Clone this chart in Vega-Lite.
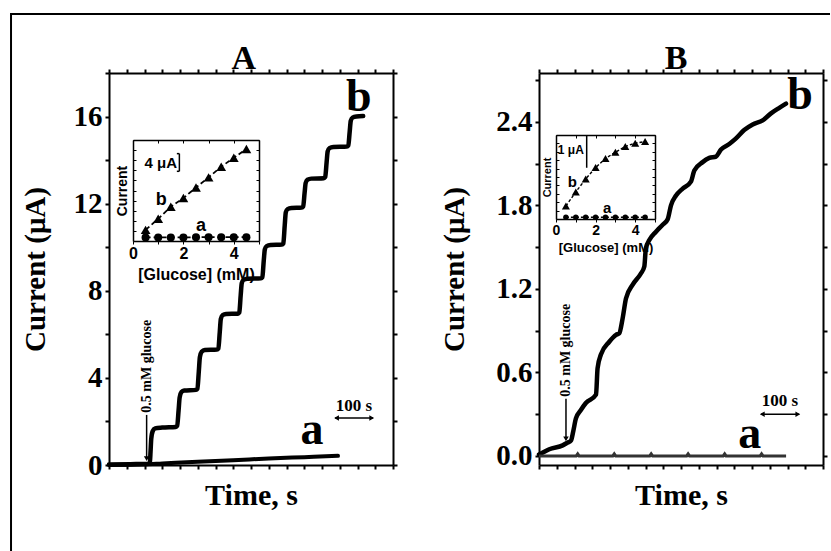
{
  "$schema": "https://vega.github.io/schema/vega-lite/v6.json",
  "padding": {"left": 9, "top": 11, "right": 0, "bottom": 0},
  "background": "white",
  "bounds": "flush",
  "spacing": 146,
  "config": {
    "view": {"stroke": null},
    "axis": {"domainColor": "black", "domainWidth": 2, "tickColor": "black", "tickWidth": 2, "tickSize": 4, "grid": false,
      "labelFont": "Liberation Serif", "labelFontSize": 29, "labelFontWeight": "bold", "labelColor": "black", "labelPadding": 3,
      "titleFont": "Liberation Serif", "titleFontSize": 29, "titleFontWeight": "bold", "titleColor": "black"}
  },
  "datasets": {
    "frame": [{"x1": -276, "x2": -276, "y1": -3.95, "y2": 20.76}, {"x1": -276.5, "x2": 2031, "y1": 20.71, "y2": 20.71}],
    "A_title": [{"t": 380, "v": 18.18, "label": "A"}],
    "B_title": [{"t": 386, "v": 2.779, "label": "B"}],
    "A_b": [
      {"t": 0, "v": 0.02}, {"t": 60, "v": 0.04}, {"t": 112, "v": 0.06},
      {"t": 115, "v": 0.1}, {"t": 117, "v": 0.6}, {"t": 119, "v": 1.2}, {"t": 123, "v": 1.55}, {"t": 130, "v": 1.68}, {"t": 150, "v": 1.72}, {"t": 188, "v": 1.75},
      {"t": 192, "v": 1.8}, {"t": 196, "v": 2.5}, {"t": 199, "v": 3.1}, {"t": 204, "v": 3.35}, {"t": 212, "v": 3.42}, {"t": 245, "v": 3.45},
      {"t": 249, "v": 3.5}, {"t": 253, "v": 4.3}, {"t": 256, "v": 4.95}, {"t": 261, "v": 5.2}, {"t": 270, "v": 5.28}, {"t": 304, "v": 5.3},
      {"t": 308, "v": 5.35}, {"t": 312, "v": 6.1}, {"t": 315, "v": 6.7}, {"t": 320, "v": 6.88}, {"t": 330, "v": 6.93}, {"t": 363, "v": 6.95},
      {"t": 367, "v": 7.0}, {"t": 371, "v": 7.8}, {"t": 374, "v": 8.35}, {"t": 379, "v": 8.5}, {"t": 390, "v": 8.55}, {"t": 428, "v": 8.57},
      {"t": 432, "v": 8.62}, {"t": 436, "v": 9.4}, {"t": 439, "v": 9.9}, {"t": 444, "v": 10.05}, {"t": 455, "v": 10.1}, {"t": 487, "v": 10.12},
      {"t": 491, "v": 10.17}, {"t": 495, "v": 11.0}, {"t": 498, "v": 11.6}, {"t": 503, "v": 11.75}, {"t": 514, "v": 11.8}, {"t": 543, "v": 11.82},
      {"t": 547, "v": 11.87}, {"t": 551, "v": 12.5}, {"t": 554, "v": 12.95}, {"t": 559, "v": 13.1}, {"t": 570, "v": 13.15}, {"t": 605, "v": 13.17},
      {"t": 609, "v": 13.22}, {"t": 613, "v": 13.9}, {"t": 616, "v": 14.4}, {"t": 621, "v": 14.55}, {"t": 632, "v": 14.6}, {"t": 670, "v": 14.62},
      {"t": 674, "v": 14.67}, {"t": 678, "v": 15.3}, {"t": 681, "v": 15.8}, {"t": 686, "v": 15.95}, {"t": 697, "v": 16.0}, {"t": 716, "v": 16.02}
    ],
    "A_a": [
      {"t": 0, "v": 0.0}, {"t": 100, "v": 0.03}, {"t": 150, "v": 0.07}, {"t": 250, "v": 0.15}, {"t": 350, "v": 0.22},
      {"t": 450, "v": 0.3}, {"t": 550, "v": 0.36}, {"t": 645, "v": 0.42}
    ],
    "A_rules": [{"t": 106, "t2": 106, "v": 2.3, "v2": 0.3}, {"t": 637, "t2": 744, "v": 2.16, "v2": 2.16}],
    "A_heads": [{"t": 106, "v": 0.29, "dir": "down"}, {"t": 641, "v": 2.16, "dir": "left"}, {"t": 740, "v": 2.16, "dir": "right"}],
    "A_big": [{"t": 704, "v": 16.25, "label": "b"}, {"t": 572, "v": 0.96, "label": "a"}],
    "A_small": [{"t": 690, "v": 2.48, "label": "100 s"}],
    "A_inj": [{"t": 106, "v": 2.4, "label": "0.5 mM glucose"}],
    "B_b": [
      {"t": 0, "v": 0.01}, {"t": 5.6, "v": 0.017}, {"t": 29, "v": 0.048}, {"t": 66.7, "v": 0.076}, {"t": 80.8, "v": 0.096},
      {"t": 90, "v": 0.11}, {"t": 96.7, "v": 0.18}, {"t": 104, "v": 0.27}, {"t": 118, "v": 0.33}, {"t": 132, "v": 0.38},
      {"t": 160.6, "v": 0.44}, {"t": 165, "v": 0.63}, {"t": 174.7, "v": 0.73}, {"t": 198, "v": 0.82}, {"t": 217, "v": 0.87},
      {"t": 226, "v": 0.88}, {"t": 235.7, "v": 0.99}, {"t": 245, "v": 1.13}, {"t": 264, "v": 1.23}, {"t": 287, "v": 1.31},
      {"t": 296.7, "v": 1.36}, {"t": 301, "v": 1.49}, {"t": 310.8, "v": 1.55}, {"t": 329.6, "v": 1.61}, {"t": 348.4, "v": 1.66},
      {"t": 362.5, "v": 1.7}, {"t": 371.8, "v": 1.8}, {"t": 386, "v": 1.87}, {"t": 404.7, "v": 1.92}, {"t": 428, "v": 1.97},
      {"t": 437.5, "v": 2.05}, {"t": 461, "v": 2.11}, {"t": 479.8, "v": 2.14}, {"t": 498.6, "v": 2.15}, {"t": 512.7, "v": 2.2},
      {"t": 536, "v": 2.24}, {"t": 555, "v": 2.28}, {"t": 578, "v": 2.34}, {"t": 602, "v": 2.38}, {"t": 630, "v": 2.41},
      {"t": 653.5, "v": 2.46}, {"t": 677, "v": 2.5}, {"t": 695.8, "v": 2.53}
    ],
    "B_a": [
      {"t": 0, "v": 0}, {"t": 105, "v": 0}, {"t": 109, "v": 0.015}, {"t": 113, "v": 0},
      {"t": 208, "v": 0}, {"t": 212, "v": 0.015}, {"t": 216, "v": 0},
      {"t": 312, "v": 0}, {"t": 316, "v": 0.015}, {"t": 320, "v": 0},
      {"t": 416, "v": 0}, {"t": 420, "v": 0.015}, {"t": 424, "v": 0},
      {"t": 519, "v": 0}, {"t": 523, "v": 0.015}, {"t": 527, "v": 0},
      {"t": 623, "v": 0}, {"t": 627, "v": 0.015}, {"t": 631, "v": 0}, {"t": 696, "v": 0}
    ],
    "B_rules": [{"t": 76, "t2": 76, "v": 0.41, "v2": 0.13}, {"t": 625, "t2": 733, "v": 0.3, "v2": 0.3}],
    "B_heads": [{"t": 76, "v": 0.122, "dir": "down"}, {"t": 629, "v": 0.3, "dir": "left"}, {"t": 729, "v": 0.3, "dir": "right"}],
    "B_big": [{"t": 735, "v": 2.49, "label": "b"}, {"t": 594, "v": 0.057, "label": "a"}],
    "B_small": [{"t": 679, "v": 0.36, "label": "100 s"}],
    "B_inj": [{"t": 76, "v": 0.425, "label": "0.5 mM glucose"}],
    "IA_b": [
      {"c": 0.5, "i": 2.2}, {"c": 1.0, "i": 4.4}, {"c": 1.5, "i": 6.8}, {"c": 2.0, "i": 8.5}, {"c": 2.5, "i": 10.6},
      {"c": 3.0, "i": 12.6}, {"c": 3.5, "i": 14.7}, {"c": 4.0, "i": 16.5}, {"c": 4.5, "i": 18.2}
    ],
    "IA_a": [
      {"c": 0.5, "i": 0.7}, {"c": 1.0, "i": 0.7}, {"c": 1.5, "i": 0.7}, {"c": 2.0, "i": 0.7}, {"c": 2.5, "i": 0.75},
      {"c": 3.0, "i": 0.75}, {"c": 3.5, "i": 0.75}, {"c": 4.0, "i": 0.75}, {"c": 4.5, "i": 0.75}
    ],
    "IA_rules": [
      {"c": 1.84, "c2": 1.84, "i": 13.8, "i2": 17.3}, {"c": 1.74, "c2": 1.84, "i": 17.3, "i2": 17.3}, {"c": 1.74, "c2": 1.84, "i": 13.8, "i2": 13.8}
    ],
    "IA_letters": [{"c": 1.12, "i": 8.2, "label": "b"}, {"c": 2.7, "i": 2.9, "label": "a"}],
    "IA_unit": [{"c": 1.1, "i": 15.4, "label": "4 μA"}],
    "IB_b": [
      {"c": 0.5, "i": 1.55}, {"c": 1.0, "i": 3.22}, {"c": 1.5, "i": 4.77}, {"c": 2.0, "i": 6.12}, {"c": 2.5, "i": 7.21},
      {"c": 3.0, "i": 7.95}, {"c": 3.5, "i": 8.64}, {"c": 4.0, "i": 9.03}, {"c": 4.5, "i": 9.22}
    ],
    "IB_a": [
      {"c": 0.5, "i": 0.2}, {"c": 1.0, "i": 0.2}, {"c": 1.5, "i": 0.2}, {"c": 2.0, "i": 0.2}, {"c": 2.5, "i": 0.2},
      {"c": 3.0, "i": 0.2}, {"c": 3.5, "i": 0.2}, {"c": 4.0, "i": 0.2}, {"c": 4.5, "i": 0.2}
    ],
    "IB_rules": [{"c": 1.55, "c2": 1.55, "i": 6.1, "i2": 10}],
    "IB_letters": [{"c": 0.83, "i": 4.38, "label": "b"}, {"c": 2.58, "i": 1.3, "label": "a"}],
    "IB_unit": [{"c": 0.75, "i": 8.26, "label": "1 μA"}]
  },
  "hconcat": [
    {
      "width": 284, "height": 392,
      "layer": [
        {
          "layer": [
            {"data": {"name": "frame"}, "mark": {"type": "rule", "color": "black", "strokeWidth": 2},
             "encoding": {"x": {"field": "x1", "type": "quantitative", "scale": {"domain": [0, 800], "nice": false}, "axis": null}, "x2": {"field": "x2"},
                          "y": {"field": "y1", "type": "quantitative", "scale": {"domain": [0, 18], "nice": false}, "axis": null}, "y2": {"field": "y2"}}},
            {"data": {"name": "A_title"}, "mark": {"type": "text", "font": "Liberation Serif", "fontWeight": "bold", "fontSize": 34, "baseline": "alphabetic", "align": "center", "color": "black"},
             "encoding": {"x": {"field": "t", "type": "quantitative", "scale": {"domain": [0, 800], "nice": false}, "axis": null},
                          "y": {"field": "v", "type": "quantitative", "scale": {"domain": [0, 18], "nice": false}, "axis": null}, "text": {"field": "label"}}},
            {"data": {"name": "A_b"}, "mark": {"type": "line", "interpolate": "monotone", "color": "black", "strokeWidth": 4.5, "strokeCap": "round", "strokeJoin": "round"},
             "encoding": {
               "x": {"field": "t", "type": "quantitative", "scale": {"domain": [0, 800], "nice": false},
                     "axis": {"orient": "bottom", "values": [0,50,100,150,200,250,300,350,400,450,500,550,600,650,700,750,800], "labels": false, "title": "Time, s", "titlePadding": 10, "titleFontSize": 30}},
               "y": {"field": "v", "type": "quantitative", "scale": {"domain": [0, 18], "nice": false},
                     "axis": {"orient": "left", "values": [0,2,4,6,8,10,12,14,16,18], "labelExpr": "datum.value % 4 == 0 ? datum.label : ''", "title": "Current (μA)", "titlePadding": 23}}}},
            {"data": {"name": "A_a"}, "mark": {"type": "line", "interpolate": "monotone", "color": "black", "strokeWidth": 4, "strokeCap": "round"},
             "encoding": {
               "x": {"field": "t", "type": "quantitative", "scale": {"domain": [0, 800], "nice": false},
                     "axis": {"orient": "top", "values": [0,50,100,150,200,250,300,350,400,450,500,550,600,650,700,750,800], "labels": false, "title": null}},
               "y": {"field": "v", "type": "quantitative", "scale": {"domain": [0, 18], "nice": false},
                     "axis": {"orient": "right", "values": [0,2,4,6,8,10,12,14,16,18], "labels": false, "title": null}}}},
            {"data": {"name": "A_rules"}, "mark": {"type": "rule", "color": "black", "strokeWidth": 1.5},
             "encoding": {"x": {"field": "t", "type": "quantitative", "scale": {"domain": [0, 800], "nice": false}, "axis": null}, "x2": {"field": "t2"},
                          "y": {"field": "v", "type": "quantitative", "scale": {"domain": [0, 18], "nice": false}, "axis": null}, "y2": {"field": "v2"}}},
            {"data": {"name": "A_heads"}, "mark": {"type": "point", "filled": true, "color": "black", "size": 30, "opacity": 1},
             "encoding": {"x": {"field": "t", "type": "quantitative", "scale": {"domain": [0, 800], "nice": false}, "axis": null},
                          "y": {"field": "v", "type": "quantitative", "scale": {"domain": [0, 18], "nice": false}, "axis": null},
                          "shape": {"field": "dir", "type": "nominal", "scale": {"domain": ["down", "left", "right"], "range": ["triangle-down", "triangle-left", "triangle-right"]}, "legend": null}}},
            {"data": {"name": "A_big"}, "mark": {"type": "text", "font": "Liberation Serif", "fontWeight": "bold", "fontSize": 46, "baseline": "alphabetic", "align": "center", "color": "black"},
             "encoding": {"x": {"field": "t", "type": "quantitative", "scale": {"domain": [0, 800], "nice": false}, "axis": null},
                          "y": {"field": "v", "type": "quantitative", "scale": {"domain": [0, 18], "nice": false}, "axis": null}, "text": {"field": "label"}}},
            {"data": {"name": "A_small"}, "mark": {"type": "text", "font": "Liberation Serif", "fontWeight": "bold", "fontSize": 17, "baseline": "alphabetic", "align": "center", "color": "black"},
             "encoding": {"x": {"field": "t", "type": "quantitative", "scale": {"domain": [0, 800], "nice": false}, "axis": null},
                          "y": {"field": "v", "type": "quantitative", "scale": {"domain": [0, 18], "nice": false}, "axis": null}, "text": {"field": "label"}}},
            {"data": {"name": "A_inj"}, "mark": {"type": "text", "font": "Liberation Serif", "fontWeight": "bold", "fontSize": 14, "baseline": "middle", "align": "left", "angle": 270, "color": "black"},
             "encoding": {"x": {"field": "t", "type": "quantitative", "scale": {"domain": [0, 800], "nice": false}, "axis": null},
                          "y": {"field": "v", "type": "quantitative", "scale": {"domain": [0, 18], "nice": false}, "axis": null}, "text": {"field": "label"}}}
          ],
          "resolve": {"axis": {"x": "independent", "y": "independent"}}
        },
        {
          "layer": [
            {"data": {"name": "IA_b"}, "mark": {"type": "line", "color": "black", "strokeWidth": 1.8, "strokeDash": [5, 3]},
             "encoding": {"x": {"field": "c", "type": "quantitative", "scale": {"domain": [0, 5], "range": [24, 150], "nice": false}, "axis": null},
                          "y": {"field": "i", "type": "quantitative", "scale": {"domain": [0, 20], "range": [168, 67], "nice": false}, "axis": null}}},
            {"data": {"name": "IA_a"}, "mark": {"type": "line", "color": "black", "strokeWidth": 1.8, "strokeDash": [5, 3]},
             "encoding": {"x": {"field": "c", "type": "quantitative", "scale": {"domain": [0, 5], "range": [24, 150], "nice": false}, "axis": null},
                          "y": {"field": "i", "type": "quantitative", "scale": {"domain": [0, 20], "range": [168, 67], "nice": false}, "axis": null}}},
            {"data": {"name": "IA_b"}, "mark": {"type": "point", "shape": "triangle-up", "filled": true, "color": "black", "size": 95, "opacity": 1},
             "encoding": {
               "x": {"field": "c", "type": "quantitative", "scale": {"domain": [0, 5], "range": [24, 150], "nice": false},
                     "axis": {"orient": "bottom", "offset": -224, "values": [0,1,2,3,4,5], "labelExpr": "datum.value % 2 == 0 ? datum.label : ''",
                              "domainWidth": 1.5, "tickWidth": 1, "tickSize": 3, "labelFont": "Liberation Sans", "labelFontSize": 16, "labelPadding": 1, "labelFlush": false,
                              "title": "[Glucose] (mM)", "titleFont": "Liberation Sans", "titleFontSize": 16, "titlePadding": 5}},
               "y": {"field": "i", "type": "quantitative", "scale": {"domain": [0, 20], "range": [168, 67], "nice": false},
                     "axis": {"orient": "left", "offset": -24, "values": [0,2,4,6,8,10,12,14,16,18,20], "labels": false,
                              "domainWidth": 1.5, "tickWidth": 1, "tickSize": -3,
                              "title": "Current", "titleFont": "Liberation Sans", "titleFontSize": 14, "titlePadding": 3}}}},
            {"data": {"name": "IA_a"}, "mark": {"type": "point", "shape": "circle", "filled": true, "color": "black", "size": 65, "opacity": 1},
             "encoding": {
               "x": {"field": "c", "type": "quantitative", "scale": {"domain": [0, 5], "range": [24, 150], "nice": false},
                     "axis": {"orient": "top", "offset": -67, "values": [0,1,2,3,4,5], "labels": false, "domainWidth": 1.5, "tickWidth": 1, "tickSize": -3, "title": null}},
               "y": {"field": "i", "type": "quantitative", "scale": {"domain": [0, 20], "range": [168, 67], "nice": false},
                     "axis": {"orient": "right", "offset": -134, "values": [0,2,4,6,8,10,12,14,16,18,20], "labels": false, "domainWidth": 1.5, "tickWidth": 1, "tickSize": -3, "title": null}}}},
            {"data": {"name": "IA_rules"}, "mark": {"type": "rule", "color": "black", "strokeWidth": 1.5},
             "encoding": {"x": {"field": "c", "type": "quantitative", "scale": {"domain": [0, 5], "range": [24, 150], "nice": false}, "axis": null}, "x2": {"field": "c2"},
                          "y": {"field": "i", "type": "quantitative", "scale": {"domain": [0, 20], "range": [168, 67], "nice": false}, "axis": null}, "y2": {"field": "i2"}}},
            {"data": {"name": "IA_letters"}, "mark": {"type": "text", "font": "Liberation Sans", "fontWeight": "bold", "fontSize": 18, "baseline": "middle", "align": "center", "color": "black"},
             "encoding": {"x": {"field": "c", "type": "quantitative", "scale": {"domain": [0, 5], "range": [24, 150], "nice": false}, "axis": null},
                          "y": {"field": "i", "type": "quantitative", "scale": {"domain": [0, 20], "range": [168, 67], "nice": false}, "axis": null}, "text": {"field": "label"}}},
            {"data": {"name": "IA_unit"}, "mark": {"type": "text", "font": "Liberation Sans", "fontWeight": "bold", "fontSize": 15, "baseline": "middle", "align": "center", "color": "black"},
             "encoding": {"x": {"field": "c", "type": "quantitative", "scale": {"domain": [0, 5], "range": [24, 150], "nice": false}, "axis": null},
                          "y": {"field": "i", "type": "quantitative", "scale": {"domain": [0, 20], "range": [168, 67], "nice": false}, "axis": null}, "text": {"field": "label"}}}
          ],
          "resolve": {"axis": {"x": "independent", "y": "independent"}}
        }
      ],
      "resolve": {"scale": {"x": "independent", "y": "independent"}}
    },
    {
      "width": 284, "height": 392,
      "layer": [
        {
          "layer": [
            {"data": {"name": "B_title"}, "mark": {"type": "text", "font": "Liberation Serif", "fontWeight": "bold", "fontSize": 34, "baseline": "alphabetic", "align": "center", "color": "black"},
             "encoding": {"x": {"field": "t", "type": "quantitative", "scale": {"domain": [0, 800], "nice": false}, "axis": null},
                          "y": {"field": "v", "type": "quantitative", "scale": {"domain": [-0.065, 2.75], "nice": false, "zero": false}, "axis": null}, "text": {"field": "label"}}},
            {"data": {"name": "B_b"}, "mark": {"type": "line", "interpolate": "monotone", "color": "black", "strokeWidth": 4.5, "strokeCap": "round", "strokeJoin": "round"},
             "encoding": {
               "x": {"field": "t", "type": "quantitative", "scale": {"domain": [0, 800], "nice": false},
                     "axis": {"orient": "bottom", "values": [0,50,100,150,200,250,300,350,400,450,500,550,600,650,700,750,800], "labels": false, "title": "Time, s", "titlePadding": 10, "titleFontSize": 30}},
               "y": {"field": "v", "type": "quantitative", "scale": {"domain": [-0.065, 2.75], "nice": false, "zero": false},
                     "axis": {"orient": "left", "values": [0,0.3,0.6,0.9,1.2,1.5,1.8,2.1,2.4,2.7], "labelExpr": "round(datum.value*10) % 6 == 0 ? format(datum.value, '.1f') : ''", "title": "Current (μA)", "titlePadding": 26}}}},
            {"data": {"name": "B_a"}, "mark": {"type": "line", "color": "#333333", "strokeWidth": 3},
             "encoding": {
               "x": {"field": "t", "type": "quantitative", "scale": {"domain": [0, 800], "nice": false},
                     "axis": {"orient": "top", "values": [0,50,100,150,200,250,300,350,400,450,500,550,600,650,700,750,800], "labels": false, "title": null}},
               "y": {"field": "v", "type": "quantitative", "scale": {"domain": [-0.065, 2.75], "nice": false, "zero": false},
                     "axis": {"orient": "right", "values": [0,0.3,0.6,0.9,1.2,1.5,1.8,2.1,2.4,2.7], "labels": false, "title": null}}}},
            {"data": {"name": "B_rules"}, "mark": {"type": "rule", "color": "black", "strokeWidth": 1.5},
             "encoding": {"x": {"field": "t", "type": "quantitative", "scale": {"domain": [0, 800], "nice": false}, "axis": null}, "x2": {"field": "t2"},
                          "y": {"field": "v", "type": "quantitative", "scale": {"domain": [-0.065, 2.75], "nice": false, "zero": false}, "axis": null}, "y2": {"field": "v2"}}},
            {"data": {"name": "B_heads"}, "mark": {"type": "point", "filled": true, "color": "black", "size": 30, "opacity": 1},
             "encoding": {"x": {"field": "t", "type": "quantitative", "scale": {"domain": [0, 800], "nice": false}, "axis": null},
                          "y": {"field": "v", "type": "quantitative", "scale": {"domain": [-0.065, 2.75], "nice": false, "zero": false}, "axis": null},
                          "shape": {"field": "dir", "type": "nominal", "scale": {"domain": ["down", "left", "right"], "range": ["triangle-down", "triangle-left", "triangle-right"]}, "legend": null}}},
            {"data": {"name": "B_big"}, "mark": {"type": "text", "font": "Liberation Serif", "fontWeight": "bold", "fontSize": 46, "baseline": "alphabetic", "align": "center", "color": "black"},
             "encoding": {"x": {"field": "t", "type": "quantitative", "scale": {"domain": [0, 800], "nice": false}, "axis": null},
                          "y": {"field": "v", "type": "quantitative", "scale": {"domain": [-0.065, 2.75], "nice": false, "zero": false}, "axis": null}, "text": {"field": "label"}}},
            {"data": {"name": "B_small"}, "mark": {"type": "text", "font": "Liberation Serif", "fontWeight": "bold", "fontSize": 17, "baseline": "alphabetic", "align": "center", "color": "black"},
             "encoding": {"x": {"field": "t", "type": "quantitative", "scale": {"domain": [0, 800], "nice": false}, "axis": null},
                          "y": {"field": "v", "type": "quantitative", "scale": {"domain": [-0.065, 2.75], "nice": false, "zero": false}, "axis": null}, "text": {"field": "label"}}},
            {"data": {"name": "B_inj"}, "mark": {"type": "text", "font": "Liberation Serif", "fontWeight": "bold", "fontSize": 14, "baseline": "middle", "align": "left", "angle": 270, "color": "black"},
             "encoding": {"x": {"field": "t", "type": "quantitative", "scale": {"domain": [0, 800], "nice": false}, "axis": null},
                          "y": {"field": "v", "type": "quantitative", "scale": {"domain": [-0.065, 2.75], "nice": false, "zero": false}, "axis": null}, "text": {"field": "label"}}}
          ],
          "resolve": {"axis": {"x": "independent", "y": "independent"}}
        },
        {
          "layer": [
            {"data": {"name": "IB_b"}, "mark": {"type": "line", "color": "black", "strokeWidth": 1.4, "strokeDash": [3, 2]},
             "encoding": {"x": {"field": "c", "type": "quantitative", "scale": {"domain": [0, 5], "range": [17, 116], "nice": false}, "axis": null},
                          "y": {"field": "i", "type": "quantitative", "scale": {"domain": [0, 10], "range": [146, 62], "nice": false}, "axis": null}}},
            {"data": {"name": "IB_a"}, "mark": {"type": "line", "color": "black", "strokeWidth": 1.4, "strokeDash": [3, 2]},
             "encoding": {"x": {"field": "c", "type": "quantitative", "scale": {"domain": [0, 5], "range": [17, 116], "nice": false}, "axis": null},
                          "y": {"field": "i", "type": "quantitative", "scale": {"domain": [0, 10], "range": [146, 62], "nice": false}, "axis": null}}},
            {"data": {"name": "IB_b"}, "mark": {"type": "point", "shape": "triangle-up", "filled": true, "color": "black", "size": 65, "opacity": 1},
             "encoding": {
               "x": {"field": "c", "type": "quantitative", "scale": {"domain": [0, 5], "range": [17, 116], "nice": false},
                     "axis": {"orient": "bottom", "offset": -246, "values": [0,1,2,3,4,5], "labelExpr": "datum.value % 2 == 0 ? datum.label : ''",
                              "domainWidth": 1.5, "tickWidth": 1, "tickSize": 3, "labelFont": "Liberation Sans", "labelFontSize": 14, "labelPadding": 1, "labelFlush": false,
                              "title": "[Glucose] (mM)", "titleFont": "Liberation Sans", "titleFontSize": 13, "titlePadding": 4}},
               "y": {"field": "i", "type": "quantitative", "scale": {"domain": [0, 10], "range": [146, 62], "nice": false},
                     "axis": {"orient": "left", "offset": -17, "values": [0,1,2,3,4,5,6,7,8,9,10], "labels": false,
                              "domainWidth": 1.5, "tickWidth": 1, "tickSize": -3,
                              "title": "Current", "titleFont": "Liberation Sans", "titleFontSize": 11, "titlePadding": 3}}}},
            {"data": {"name": "IB_a"}, "mark": {"type": "point", "shape": "circle", "filled": true, "color": "black", "size": 30, "opacity": 1},
             "encoding": {
               "x": {"field": "c", "type": "quantitative", "scale": {"domain": [0, 5], "range": [17, 116], "nice": false},
                     "axis": {"orient": "top", "offset": -62, "values": [0,1,2,3,4,5], "labels": false, "domainWidth": 1.5, "tickWidth": 1, "tickSize": -3, "title": null}},
               "y": {"field": "i", "type": "quantitative", "scale": {"domain": [0, 10], "range": [146, 62], "nice": false},
                     "axis": {"orient": "right", "offset": -168, "values": [0,1,2,3,4,5,6,7,8,9,10], "labels": false, "domainWidth": 1.5, "tickWidth": 1, "tickSize": -3, "title": null}}}},
            {"data": {"name": "IB_rules"}, "mark": {"type": "rule", "color": "black", "strokeWidth": 1.5},
             "encoding": {"x": {"field": "c", "type": "quantitative", "scale": {"domain": [0, 5], "range": [17, 116], "nice": false}, "axis": null}, "x2": {"field": "c2"},
                          "y": {"field": "i", "type": "quantitative", "scale": {"domain": [0, 10], "range": [146, 62], "nice": false}, "axis": null}, "y2": {"field": "i2"}}},
            {"data": {"name": "IB_letters"}, "mark": {"type": "text", "font": "Liberation Sans", "fontWeight": "bold", "fontSize": 15, "baseline": "middle", "align": "center", "color": "black"},
             "encoding": {"x": {"field": "c", "type": "quantitative", "scale": {"domain": [0, 5], "range": [17, 116], "nice": false}, "axis": null},
                          "y": {"field": "i", "type": "quantitative", "scale": {"domain": [0, 10], "range": [146, 62], "nice": false}, "axis": null}, "text": {"field": "label"}}},
            {"data": {"name": "IB_unit"}, "mark": {"type": "text", "font": "Liberation Sans", "fontWeight": "bold", "fontSize": 12, "baseline": "middle", "align": "center", "color": "black"},
             "encoding": {"x": {"field": "c", "type": "quantitative", "scale": {"domain": [0, 5], "range": [17, 116], "nice": false}, "axis": null},
                          "y": {"field": "i", "type": "quantitative", "scale": {"domain": [0, 10], "range": [146, 62], "nice": false}, "axis": null}, "text": {"field": "label"}}}
          ],
          "resolve": {"axis": {"x": "independent", "y": "independent"}}
        }
      ],
      "resolve": {"scale": {"x": "independent", "y": "independent"}}
    }
  ]
}
